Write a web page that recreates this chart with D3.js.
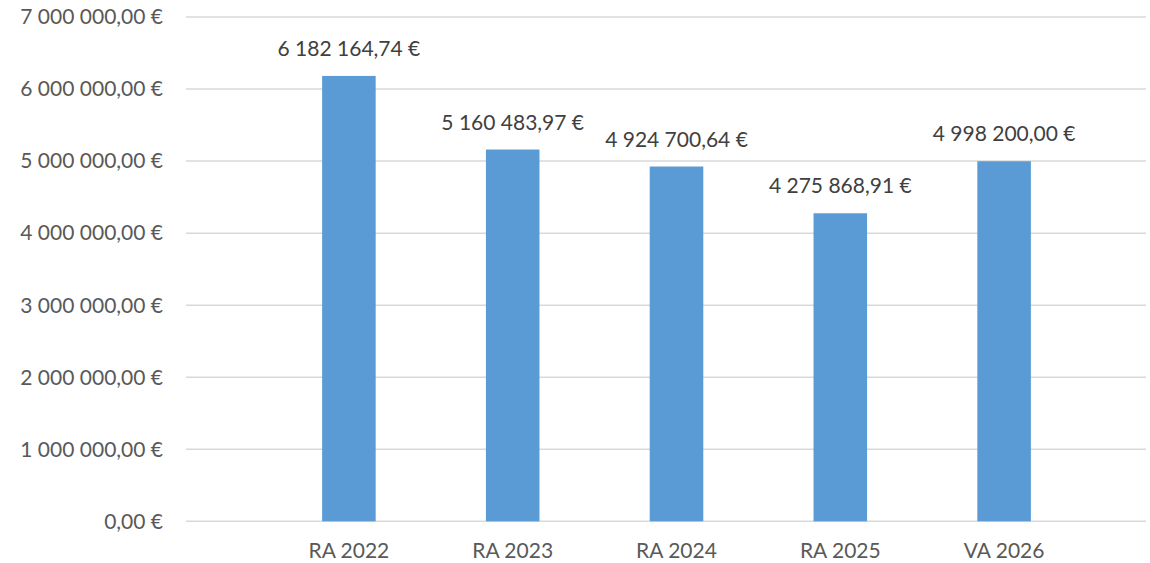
<!DOCTYPE html>
<html>
<head>
<meta charset="utf-8">
<script src="https://cdn.jsdelivr.net/npm/d3@7"></script>
<style>
  html, body { margin: 0; padding: 0; background: #fff; }
  svg { display: block; }
</style>
</head>
<body>
<svg id="chart" width="1150" height="563"></svg>
<script>
const categories = ["RA 2022", "RA 2023", "RA 2024", "RA 2025", "VA 2026"];
const amounts = [6182164.74, 5160483.97, 4924700.64, 4275868.91, 4998200.00];
const yTicks = [0, 1000000, 2000000, 3000000, 4000000, 5000000, 6000000, 7000000];

const W = 1150, H = 563;
const gridLeft = 186, gridRight = 1146;
const FONT = "Lato, 'Liberation Sans', sans-serif";
const FS = 21;
const TXT = "#595959";

const fmt = v => {
    const [intPart, dec] = v.toFixed(2).split(".");
    return intPart.replace(/\B(?=(\d{3})+(?!\d))/g, " ") + "," + dec + " €";
};

const svg = d3.select("#chart");

const x = d3.scaleBand()
    .domain(categories)
    .range([267, 1086])
    .paddingInner(0.673)
    .paddingOuter(0.3365);

const y = d3.scaleLinear().domain([0, 7000000]).range([521.3, 17]);

// gridlines
svg.append("g")
    .selectAll("line")
    .data(yTicks)
    .join("line")
    .attr("x1", gridLeft)
    .attr("x2", gridRight)
    .attr("y1", d => y(d))
    .attr("y2", d => y(d))
    .attr("stroke", "#d9d9d9")
    .attr("stroke-width", 1.5);

// y labels
svg.append("g")
    .selectAll("text")
    .data(yTicks)
    .join("text")
    .attr("x", 163)
    .attr("y", d => y(d))
    .attr("dy", "0.35em")
    .attr("text-anchor", "end")
    .attr("font-family", FONT)
    .attr("font-size", FS)
    .attr("fill", TXT)
    .text(d => fmt(d));

// bars
svg.append("g")
    .selectAll("rect")
    .data(amounts)
    .join("rect")
    .attr("x", (d, i) => x(categories[i]))
    .attr("width", x.bandwidth())
    .attr("y", d => y(d))
    .attr("height", d => y(0) - y(d))
    .attr("fill", "#5b9bd5");

// value labels above bars
svg.append("g")
    .selectAll("text")
    .data(amounts)
    .join("text")
    .attr("x", (d, i) => x(categories[i]) + x.bandwidth() / 2)
    .attr("y", d => y(d) - 20)
    .attr("text-anchor", "middle")
    .attr("font-family", FONT)
    .attr("font-size", FS)
    .attr("fill", "#404040")
    .text(d => fmt(d));

// x labels
svg.append("g")
    .selectAll("text")
    .data(categories)
    .join("text")
    .attr("x", d => x(d) + x.bandwidth() / 2)
    .attr("y", 558)
    .attr("text-anchor", "middle")
    .attr("font-family", FONT)
    .attr("font-size", FS)
    .attr("fill", TXT)
    .text(d => d);
</script>
</body>
</html>
